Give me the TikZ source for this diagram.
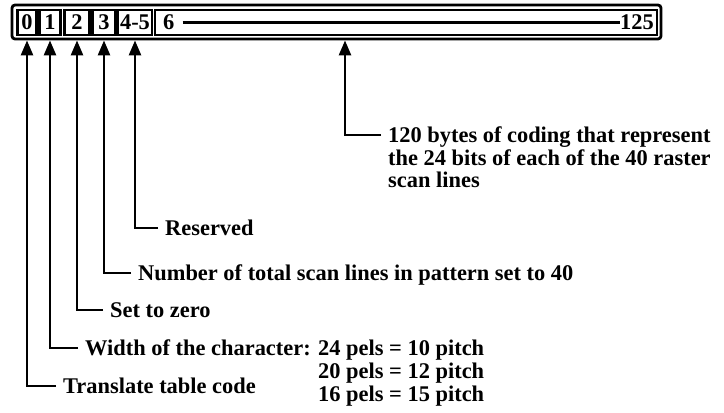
\documentclass[tikz,border=0pt]{standalone}
\usepackage{fontspec}
\setmainfont{Liberation Serif}
\usetikzlibrary{arrows.meta}
\tikzset{
  recframe/.style={draw, line width=2.8bp, rounded corners=3bp, inner sep=0pt},
  cell/.style={draw, line width=2.2bp, minimum height=25bp, inner sep=0pt},
  lbl/.style={anchor=base west, inner sep=0pt},
  ptr/.style={line width=2.6bp, shorten <=7bp, -{Triangle[length=15bp,width=12bp]}},
}
\begin{document}
\begin{tikzpicture}[x=1bp,y=-1bp,font=\fontsize{22.5}{26}\selectfont\bfseries]
\useasboundingbox (0,0) rectangle (724,412);
% the record
\node[recframe, minimum width=649bp, minimum height=34bp] (rec) at (336.5,22) {};
\node[cell, minimum width=19bp] (c0) at (27,22.5) {0};
\node[cell, minimum width=21bp] (c1) at (50,22.5) {1};
\node[cell, minimum width=25bp] (c2) at (77,22.5) {2};
\node[cell, minimum width=23bp] (c3) at (104,22.5) {3};
\node[cell, minimum width=34bp] (c4) at (135,22.5) {4-5};
\node[cell, minimum width=502bp] (c6) at (406,22.5) {};
\node[anchor=west, inner sep=0pt] (six) at (163,22.5) {6};
\node[anchor=east, inner sep=0pt] (last) at (654,22.5) {125};
\draw[line width=2.4bp, shorten <=8bp] (six.east) -- (last.west);
\coordinate (pix) at (345,22.5);

% descriptions
\node[lbl] (tt) at (63,393) {Translate table code};
\node[lbl] (wd) at (85,355) {Width of the character:};
\node[lbl] (p24) at (318,355) {24 pels = 10 pitch};
\node[lbl] (p20) at (318,378) {20 pels = 12 pitch};
\node[lbl] (p16) at (318,401) {16 pels = 15 pitch};
\node[lbl] (zero) at (110,317) {Set to zero};
\node[lbl] (num) at (138,280) {Number of total scan lines in pattern set to 40};
\node[lbl] (res) at (165,235) {Reserved};
\node[lbl] (bytes) at (388,142) {120 bytes of coding that represent};
\node[lbl] (bytes2) at (388,165) {the 24 bits of each of the 40 raster};
\node[lbl] (bytes3) at (388,187) {scan lines};

% pointers
\draw[ptr] ([yshift=7bp]tt.base west) -| (c0 |- rec.south);
\draw[ptr] ([yshift=7bp]wd.base west) -| (c1 |- rec.south);
\draw[ptr] ([yshift=7bp]zero.base west) -| (c2 |- rec.south);
\draw[ptr] ([yshift=7bp]num.base west) -| (c3 |- rec.south);
\draw[ptr] ([yshift=7bp]res.base west) -| (c4 |- rec.south);
\draw[ptr] ([yshift=7bp]bytes.base west) -| (pix |- rec.south);
\end{tikzpicture}
\end{document}
